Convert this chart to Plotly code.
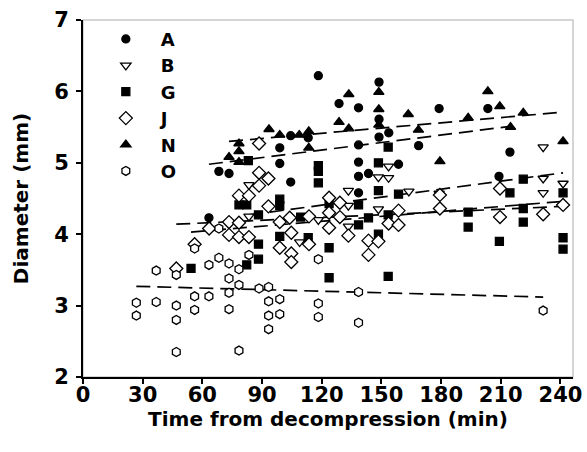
import plotly.graph_objects as go

# ---- data ----
A_x = [63.3, 68.3, 73.4, 98.9, 98.9, 104.4, 104.4, 113.2, 118.3, 128.7, 138.5, 138.5, 138.5, 138.5, 138.5,
       143.5, 148.8, 148.8, 148.8, 153.7, 158.6, 168.7, 179.0, 203.5, 209.1, 214.6]
A_y = [4.23, 4.88, 4.85, 5.21, 4.99, 5.38, 4.73, 5.35, 6.22, 5.83, 5.77, 5.25, 5.01, 4.81, 4.58,
       4.85, 6.13, 5.61, 5.36, 5.42, 4.98, 5.24, 5.76, 5.76, 4.81, 5.15]

B_x = [83.4, 83.4, 108.9, 118.3, 133.4, 133.4, 133.4, 148.5, 148.5, 153.6, 153.6, 163.8, 179.0,
       231.3, 231.3, 231.3, 241.3]
B_y = [4.69, 4.25, 3.89, 4.20, 4.61, 4.40, 4.11, 4.80, 4.35, 4.95, 4.79, 4.60, 4.57,
       5.22, 4.78, 4.58, 4.71]

G_x = [54.3, 78.4, 82.3, 83.1, 82.3, 88.2, 88.2, 88.2, 98.9, 98.9, 98.9, 109.4, 113.2, 118.3, 118.3,
       118.3, 123.7, 123.7, 123.7, 138.5, 138.5, 143.5, 148.5, 148.5, 148.5, 153.4, 153.4, 153.4,
       158.6, 193.6, 193.6, 209.3, 214.6, 221.3, 221.3, 221.3, 241.3, 241.3, 241.3]
G_y = [3.52, 4.41, 4.41, 5.03, 3.57, 4.27, 3.86, 3.65, 4.49, 4.40, 3.97, 4.24, 3.95, 4.96, 4.88,
       4.72, 4.43, 3.81, 3.39, 4.41, 4.13, 4.23, 5.00, 4.61, 4.00, 5.22, 4.27, 3.41,
       4.56, 4.31, 4.10, 3.90, 4.58, 4.77, 4.36, 4.17, 4.58, 3.95, 3.79]

J_x = [46.9, 56.1, 63.4, 73.4, 73.4, 78.4, 78.4, 78.4, 83.4, 83.4, 88.5, 88.5, 88.5, 93.2, 93.2,
       98.9, 98.9, 103.9, 104.7, 104.7, 104.7, 113.6, 113.6, 123.7, 123.7, 123.7, 129.1, 129.1,
       133.4, 143.5, 143.5, 148.5, 153.6, 158.6, 158.6, 179.4, 179.4, 209.6, 209.6, 231.3, 241.3]
J_y = [3.52, 3.86, 4.08, 4.17, 3.99, 4.54, 4.16, 3.96, 4.54, 3.96, 5.27, 4.86, 4.68, 4.78, 4.39,
       4.17, 3.81, 4.23, 4.02, 3.73, 3.61, 4.25, 3.86, 4.51, 4.30, 4.09, 4.44, 4.24,
       3.98, 3.91, 3.71, 3.90, 4.15, 4.33, 4.13, 4.55, 4.36, 4.64, 4.24, 4.28, 4.41]

N_x = [73.4, 78.4, 78.4, 78.4, 93.5, 98.9, 108.7, 113.5, 113.5, 128.7, 133.6, 133.6, 148.7, 148.7,
       148.7, 163.5, 168.6, 179.4, 193.6, 203.5, 209.5, 214.9, 221.3, 241.3]
N_y = [5.08, 5.27, 5.16, 5.01, 5.47, 5.39, 5.39, 5.44, 5.21, 5.57, 5.96, 5.48, 5.99, 5.75,
       5.53, 5.68, 5.46, 5.02, 5.63, 6.00, 5.79, 5.50, 5.70, 5.30]

O_x = [26.8, 26.8, 36.8, 36.8, 46.9, 46.9, 46.9, 46.9, 56.1, 56.1, 56.1, 63.3, 63.3, 68.3, 68.3,
       73.4, 73.4, 73.4, 73.4, 78.4, 78.4, 78.4, 83.4, 88.5, 93.3, 93.3, 93.3, 93.3, 98.9, 98.9,
       118.3, 118.3, 118.3, 138.5, 138.5, 231.3]
O_y = [3.04, 2.86, 3.49, 3.05, 3.43, 3.00, 2.80, 2.35, 3.80, 3.13, 2.94, 3.57, 3.13, 4.08, 3.67,
       3.59, 3.38, 3.18, 2.95, 3.51, 3.29, 2.37, 3.71, 3.24, 3.26, 3.06, 2.86, 2.67, 3.09, 2.88,
       3.65, 3.03, 2.84, 3.19, 2.76, 2.93]

# regression (trend) line end points
trend_A = ([63.3, 214.6], [4.98, 5.51])
trend_B = ([83.4, 241.3], [4.27, 4.86])
trend_G = ([54.3, 241.3], [4.03, 4.46])
trend_J = ([46.9, 241.3], [4.14, 4.39])
trend_N = ([73.4, 241.3], [5.30, 5.71])
trend_O = ([26.8, 231.3], [3.27, 3.12])

x_ticks = [0, 30, 60, 90, 120, 150, 180, 210, 240]
y_ticks = [2, 3, 4, 5, 6, 7]

FONT = "DejaVu Sans"

fig = go.Figure()

for tx, ty in [trend_O, trend_J, trend_G, trend_B, trend_A, trend_N]:
    fig.add_trace(go.Scatter(x=tx, y=ty, mode="lines", showlegend=False, hoverinfo="skip",
                             line=dict(color="black", width=1.7, dash="14px,7px")))

series = [
    ("A", A_x, A_y, "circle", "black", 8),
    ("B", B_x, B_y, "triangle-down", "white", 9),
    ("G", G_x, G_y, "square", "black", 8),
    ("J", J_x, J_y, "diamond", "white", 10),
    ("N", N_x, N_y, "triangle-up", "black", 9),
    ("O", O_x, O_y, "hexagon", "white", 9),
]
for name, xs, ys, sym, col, size in series:
    fig.add_trace(go.Scatter(
        x=xs, y=ys, mode="markers", name="<b>%s</b>" % name,
        marker=dict(symbol=sym, color=col, size=size, line=dict(color="black", width=1.3)),
    ))

fig.update_layout(
    width=587, height=452,
    margin=dict(l=83, r=14, t=20, b=75),
    plot_bgcolor="white", paper_bgcolor="white",
    font=dict(family=FONT, color="black"),
    legend=dict(x=0.016, y=0.998, xanchor="left", yanchor="top",
                bgcolor="rgba(0,0,0,0)", font=dict(family=FONT, size=18, color="black"),
                itemwidth=60, tracegroupgap=0),
    shapes=[dict(type="rect", xref="paper", yref="paper", x0=0, x1=1, y0=0, y1=1,
                 line=dict(color="#c8c8c8", width=1.5), layer="below")],
)
fig.update_xaxes(
    range=[0, 246.3], tickvals=x_ticks, ticktext=["<b>%d</b>" % v for v in x_ticks],
    automargin=False, ticklabelstandoff=-7,
    showgrid=False, zeroline=False, showline=True, linecolor="black", linewidth=2,
    ticks="outside", ticklen=5, tickwidth=1.5, tickcolor="black",
    tickfont=dict(family=FONT, size=21, color="black"),
    title=dict(text="<b>Time from decompression (min)</b>", font=dict(family=FONT, size=20), standoff=2),
)
fig.update_yaxes(
    range=[2, 7], tickvals=y_ticks, ticktext=["<b>%d</b>" % v for v in y_ticks],
    automargin=False, ticklabelstandoff=3,
    showgrid=False, zeroline=False, showline=True, linecolor="black", linewidth=2,
    ticks="outside", ticklen=5, tickwidth=1.5, tickcolor="black",
    tickfont=dict(family=FONT, size=21, color="black"),
    title=dict(text="<b>Diameter (mm)</b>", font=dict(family=FONT, size=20), standoff=20),
)

fig.write_html("out.html", config={"displayModeBar": False})

# remove the browser's default page margin so the figure sits at the window origin
with open("out.html", "r", encoding="utf-8") as f:
    html = f.read()
html = html.replace("<head>", "<head><style>html,body{margin:0;padding:0;}</style>", 1)
with open("out.html", "w", encoding="utf-8") as f:
    f.write(html)
